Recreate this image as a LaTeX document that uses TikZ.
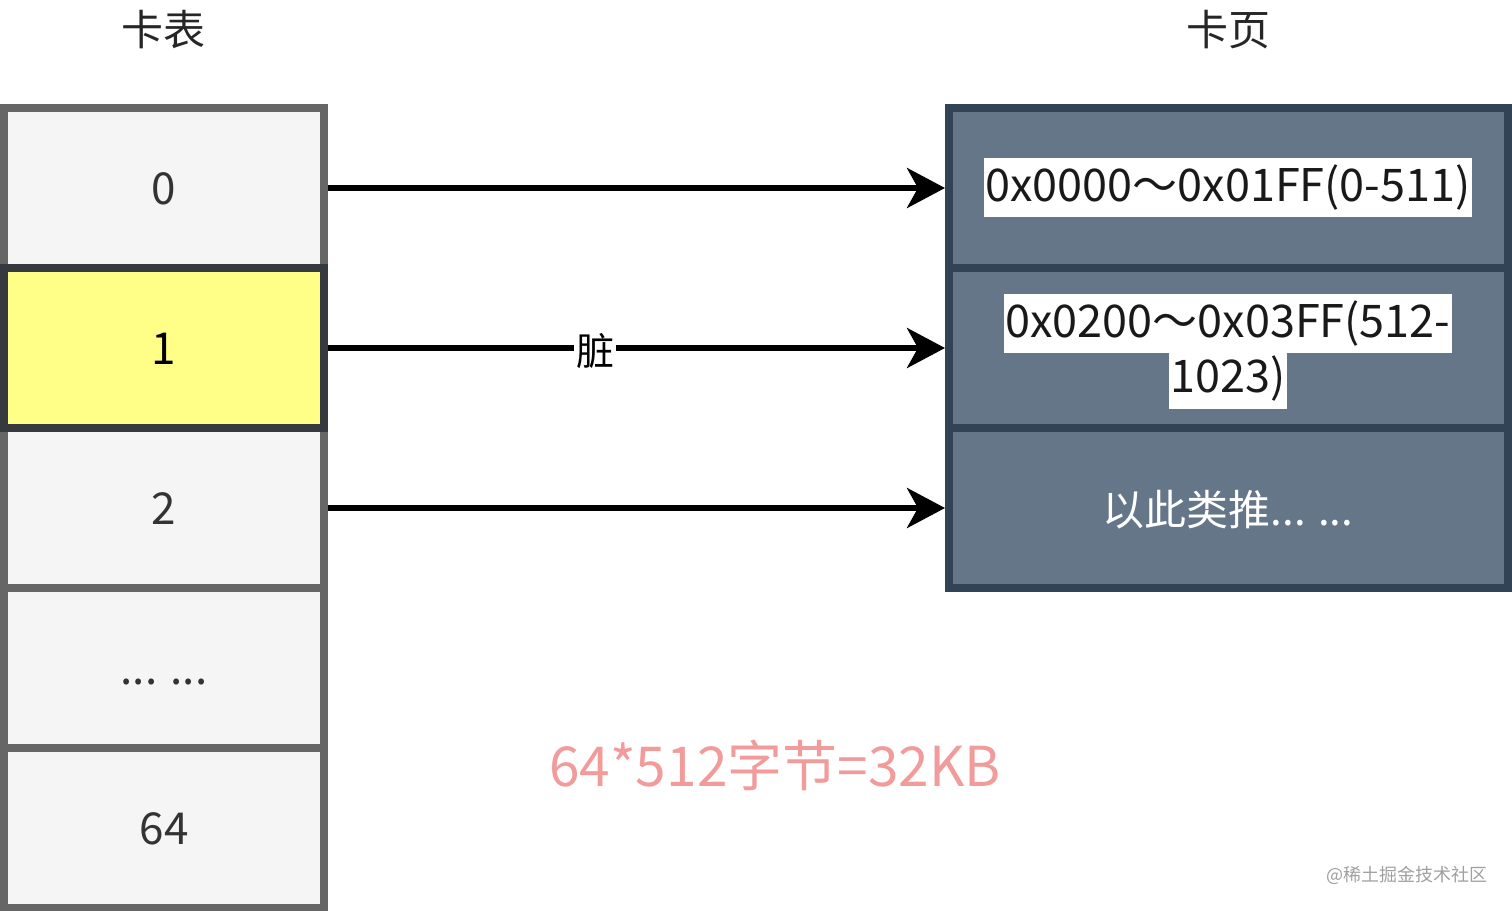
\documentclass[tikz,border=0pt]{standalone}
\usepackage{fontspec}
\newfontfamily\cjk{Noto Sans CJK SC}
\usetikzlibrary{arrows.meta}
\definecolor{cellfill}{HTML}{F5F5F5}
\definecolor{cellline}{HTML}{666666}
\definecolor{dirtyfill}{HTML}{FFFF88}
\definecolor{dirtyline}{HTML}{36393D}
\definecolor{pagefill}{HTML}{647687}
\definecolor{pageline}{HTML}{314354}
\definecolor{txt}{HTML}{333333}
\definecolor{pinktxt}{HTML}{F29B9B}
\definecolor{marktxt}{HTML}{A0A0A0}
\begin{document}
\begin{tikzpicture}[x=1pt,y=-1pt,
  cardcell/.style={draw=cellline, fill=cellfill, line width=8pt, minimum width=320pt, minimum height=160pt, inner sep=0pt, text height=32pt, text depth=0pt, text=txt, font=\cjk\fontsize{44}{52}\selectfont},
  dirtycell/.style={cardcell, draw=dirtyline, fill=dirtyfill, text=black},
  pagecell/.style={draw=pageline, fill=pagefill, line width=8pt, minimum width=559pt, minimum height=160pt, inner sep=0pt},
  addr/.style={fill=white, text=black!90, inner xsep=1pt, inner ysep=8pt, text height=35pt, text depth=8pt, font=\cjk\fontsize{45}{52}\selectfont},
  etc/.style={text=white, font=\cjk\fontsize{42}{50}\selectfont},
  title/.style={text=black!85, font=\cjk\fontsize{42}{50}\selectfont},
  link/.style={line width=6pt, draw=black, -{Stealth[length=38pt, width=40pt, inset=11pt]}},
  lbl/.style={fill=white, text=black, inner sep=2pt, font=\cjk\fontsize{38}{44}\selectfont},
  note/.style={text=pinktxt, font=\cjk\fontsize{55}{64}\selectfont},
  wmark/.style={text=marktxt, font=\cjk\fontsize{18}{22}\selectfont}]
\useasboundingbox (0,0) rectangle (1512,910);
% card table
\node[cardcell] (cell0) at (164,188) {0};
\node[cardcell] (cell2) at (164,508) {2};
\node[cardcell] (cell3) at (164,668) {... ...};
\node[cardcell] (cell64) at (164,828) {64};
\node[dirtycell] (cell1) at (164,348) {1};
% card pages
\node[pagecell] (page0) at (1228.5,188) {};
\node[pagecell] (page1) at (1228.5,348) {};
\node[pagecell] (page2) at (1228.5,508) {};
\node[addr] (addr0) at (1228,187.5) {0x0000～0x01FF(0-511)};
\node[addr] (addr1a) at (1228,323.5) {0x0200～0x03FF(512-};
\node[addr] (addr1b) at (1228,379) {1023)};
\node[etc] (addr2) at (1228,510) {以此类推... ...};
% arrows
\draw[link] (cell0.east) -- (page0.west);
\draw[link] (cell1.east) -- node[lbl, pos=0.433, yshift=-3pt] (dirty) {脏} (page1.west);
\draw[link] (cell2.east) -- (page2.west);
% titles
\node[title] (t1) at (163,30) {卡表};
\node[title] (t2) at (1228,30) {卡页};
\node[note] (sum) at (775,765) {64*512字节=32KB};
\node[wmark] (wm) at (1407,875) {@稀土掘金技术社区};
\end{tikzpicture}
\end{document}
